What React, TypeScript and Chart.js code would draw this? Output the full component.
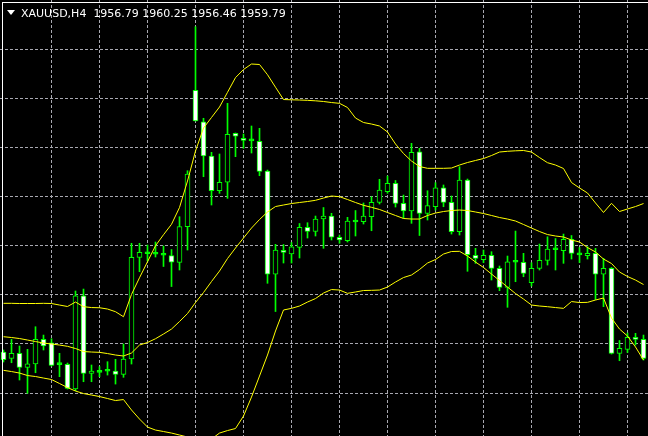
import React, { useEffect, useRef } from 'react';
import { Chart, registerables } from 'chart.js';

Chart.register(...registerables);

// ---- data (XAUUSD H4, 81 visible bars) ----
const opens = [
  1958.69, 1957.66, 1958.48, 1956.19, 1956.73, 1960.76, 1960.21, 1956.72, 1956.68, 1952.65,
  1967.88, 1955.21, 1955.46, 1955.55, 1955.59, 1955.05, 1957.55, 1974.15, 1974.81, 1974.65,
  1974.57, 1974.44, 1973.33, 1979.15, 2001.42, 1996.29, 1990.69, 1985.02, 1986.40, 1994.40,
  1993.58, 1993.16, 1993.09, 1988.24, 1971.42, 1975.26, 1974.72, 1975.78, 1979.05, 1978.36,
  1980.40, 1980.89, 1977.42, 1976.86, 1979.92, 1979.96, 1980.78, 1983.13, 1984.86, 1986.23,
  1982.97, 1981.71, 1991.39, 1981.33, 1982.41, 1985.51, 1983.13, 1978.33, 1986.77, 1974.48,
  1973.76, 1974.48, 1972.35, 1969.25, 1973.42, 1973.33, 1970.00, 1972.35, 1973.66, 1975.38,
  1975.23, 1977.09, 1974.62, 1974.41, 1974.80, 1971.38, 1972.35, 1958.48, 1959.13, 1961.09,
  1960.76,
];
const highs = [
  1959.02, 1960.76, 1959.67, 1959.13, 1962.82, 1961.46, 1960.86, 1958.48, 1956.89, 1968.65,
  1968.97, 1956.57, 1956.29, 1957.11, 1957.50, 1960.00, 1976.44, 1976.44, 1976.16, 1976.65,
  1976.00, 1975.42, 1980.78, 1988.29, 2011.80, 1996.85, 1991.29, 1991.02, 1999.29, 1994.45,
  1994.28, 1995.59, 1995.21, 1988.40, 1976.27, 1976.24, 1976.57, 1979.67, 1979.80, 1980.89,
  1982.28, 1981.33, 1977.79, 1980.68, 1981.79, 1983.02, 1984.05, 1986.89, 1987.42, 1986.69,
  1984.32, 1992.76, 1991.95, 1985.02, 1986.33, 1985.96, 1984.16, 1988.94, 1986.93, 1975.62,
  1975.34, 1975.07, 1972.73, 1974.36, 1978.44, 1974.80, 1973.27, 1976.32, 1977.51, 1977.22,
  1977.95, 1977.71, 1975.75, 1975.88, 1975.62, 1973.99, 1972.49, 1960.57, 1961.79, 1961.74,
  1961.46,
];
const lows = [
  1957.06, 1956.94, 1954.12, 1951.95, 1955.31, 1959.02, 1956.40, 1954.66, 1952.65, 1952.37,
  1953.84, 1953.84, 1954.66, 1954.93, 1953.46, 1954.56, 1956.73, 1971.80, 1973.55, 1974.20,
  1972.65, 1969.38, 1972.08, 1975.34, 1996.40, 1987.31, 1982.69, 1984.60, 1983.78, 1990.58,
  1991.95, 1991.18, 1987.47, 1969.91, 1965.30, 1973.22, 1973.22, 1974.04, 1977.30, 1977.63,
  1975.62, 1976.98, 1976.44, 1976.65, 1977.63, 1979.59, 1978.49, 1982.85, 1984.60, 1982.36,
  1980.52, 1979.70, 1977.71, 1980.24, 1981.87, 1982.41, 1977.95, 1977.79, 1971.87, 1973.17,
  1973.27, 1970.44, 1968.70, 1965.99, 1970.17, 1970.98, 1969.46, 1972.08, 1972.89, 1972.08,
  1973.17, 1973.87, 1973.30, 1973.87, 1967.26, 1966.09, 1958.36, 1957.27, 1958.61, 1959.83,
  1957.38,
];
const closes = [
  1957.46, 1958.48, 1956.19, 1956.78, 1960.76, 1959.67, 1956.52, 1956.64, 1952.76, 1967.88,
  1955.21, 1955.59, 1955.38, 1955.63, 1955.05, 1957.55, 1974.15, 1974.97, 1974.73, 1974.73,
  1974.49, 1973.35, 1979.15, 1987.75, 1996.40, 1990.69, 1985.02, 1986.40, 1994.23, 1993.91,
  1993.22, 1993.24, 1988.19, 1971.42, 1975.34, 1974.97, 1975.88, 1979.05, 1978.36, 1980.40,
  1980.89, 1977.42, 1976.98, 1980.08, 1980.00, 1980.89, 1983.13, 1985.14, 1986.23, 1982.97,
  1981.71, 1991.29, 1981.33, 1982.58, 1985.51, 1983.13, 1978.33, 1986.77, 1974.58, 1973.99,
  1974.48, 1972.35, 1969.25, 1973.43, 1973.34, 1971.54, 1972.35, 1973.66, 1975.51, 1975.46,
  1977.09, 1974.80, 1974.54, 1974.80, 1971.42, 1972.35, 1958.48, 1959.29, 1961.09, 1960.76,
  1957.66,
];
const upperBand = [
  1966.64, 1966.64, 1966.61, 1966.61, 1966.61, 1966.64, 1966.61, 1966.36, 1966.12, 1966.85,
  1966.09, 1965.95, 1965.92, 1965.71, 1965.27, 1964.45, 1968.09, 1970.82, 1973.43, 1976.04,
  1977.84, 1979.54, 1982.28, 1986.61, 1991.51, 1995.26, 1996.98, 1998.69, 2001.09, 2003.49,
  2004.81, 2005.71, 2005.63, 2003.96, 2001.92, 1999.91, 1999.87, 1999.83, 1999.78, 1999.70,
  1999.59, 1999.42, 1999.29, 1998.61, 1996.89, 1996.16, 1995.91, 1995.59, 1994.61, 1992.65,
  1991.10, 1989.87, 1988.98, 1988.68, 1988.68, 1988.68, 1988.73, 1989.22, 1989.63, 1989.96,
  1990.28, 1990.77, 1991.34, 1991.46, 1991.54, 1991.59, 1991.34, 1990.44, 1989.60, 1989.22,
  1988.65, 1986.36, 1985.47, 1984.65, 1983.02, 1981.47, 1982.97, 1981.63, 1982.04, 1982.44,
  1982.93,
];
const middleBand = [
  1961.19, 1961.06, 1960.89, 1960.65, 1960.40, 1960.16, 1960.00, 1959.83, 1959.62, 1959.26,
  1958.77, 1958.69, 1958.64, 1958.44, 1958.20, 1958.04, 1958.53, 1959.83, 1960.24, 1960.86,
  1961.63, 1962.44, 1963.67, 1964.97, 1966.77, 1968.40, 1970.20, 1971.91, 1973.95, 1975.67,
  1977.30, 1978.93, 1980.32, 1981.55, 1982.44, 1982.69, 1982.93, 1983.10, 1983.26, 1983.46,
  1983.83, 1984.16, 1984.05, 1983.59, 1983.10, 1982.64, 1982.31, 1981.96, 1981.47, 1980.98,
  1980.49, 1980.40, 1980.40, 1980.98, 1981.38, 1981.63, 1981.79, 1981.87, 1981.79, 1981.55,
  1981.30, 1980.98, 1980.65, 1980.40, 1980.08, 1979.51, 1978.93, 1978.36, 1977.87, 1977.63,
  1977.47, 1976.98, 1976.65, 1975.75, 1975.02, 1973.87, 1973.14, 1971.75, 1971.02, 1970.44,
  1969.71,
];
const lowerBand = [
  1955.70, 1955.50, 1955.26, 1954.85, 1954.69, 1954.44, 1954.20, 1953.55, 1952.89, 1952.32,
  1951.91, 1951.67, 1951.42, 1951.10, 1950.77, 1950.93, 1949.22, 1947.75, 1946.44, 1945.95,
  1945.71, 1945.46, 1945.14, 1944.81, 1944.48, 1944.32, 1944.48, 1945.46, 1945.87, 1946.20,
  1948.24, 1951.34, 1954.77, 1958.20, 1962.12, 1965.55, 1965.82, 1966.20, 1966.85, 1967.42,
  1968.32, 1968.89, 1968.81, 1968.27, 1968.49, 1968.73, 1968.76, 1968.81, 1969.30, 1970.12,
  1970.85, 1971.26, 1972.16, 1973.22, 1973.79, 1974.69, 1975.10, 1975.13, 1974.36, 1973.38,
  1972.49, 1971.42, 1970.36, 1969.30, 1968.24, 1967.34, 1966.36, 1966.20, 1966.09, 1965.95,
  1965.82, 1966.93, 1966.77, 1966.80, 1967.18, 1967.51, 1964.24, 1962.44, 1961.30, 1959.51,
  1957.38,
];
const gridPrices = [1952, 1960, 1968, 1976, 1984, 1992, 2000, 2008];
const gridBars = [6, 12, 18, 24, 30, 36, 42, 48, 54, 60, 66, 72, 78];
const headerText = 'XAUUSD,H4  1956.79 1960.25 1956.46 1959.79';

const PRICE_MIN = 1944.98;
const PRICE_MAX = 2016.16;
const BAR_MIN = -0.4375;
const BAR_MAX = 80.5625;

const GREEN = '#00ff00';
const YELLOW = '#ffff00';
const GRID = '#a8a8b0';

export default function App() {
  const canvasRef = useRef<HTMLCanvasElement | null>(null);

  useEffect(() => {
    const canvas = canvasRef.current;
    if (!canvas) return;
    const idx = opens.map((_, i) => i);
    const bodies = idx.map((i) => ({ x: i, y: [opens[i], closes[i]] }));
    const wicks = idx.map((i) => ({ x: i, y: [lows[i], highs[i]] }));
    const band = (arr: number[]) => arr.map((v, i) => ({ x: i, y: v }));
    const isDoji = (i: number) => Math.abs(opens[i] - closes[i]) < 0.2;

    const lineDs = (arr: number[]) => ({
      type: 'line' as const,
      data: band(arr),
      borderColor: YELLOW,
      borderWidth: 1,
      pointRadius: 0,
      tension: 0,
      fill: false,
      order: 0,
    });

    const gridCfg = {
      color: GRID,
      lineWidth: 1,
      drawTicks: false,
      offset: false,
    };

    const chart = new Chart(canvas, {
      type: 'bar',
      data: {
        datasets: [
          lineDs(upperBand),
          lineDs(middleBand),
          lineDs(lowerBand),
          {
            type: 'bar',
            data: bodies as any,
            backgroundColor: (c: any) => {
              const i = c.dataIndex;
              if (i === undefined) return '#000000';
              if (isDoji(i)) return GREEN;
              return closes[i] < opens[i] ? '#ffffff' : '#000000';
            },
            borderColor: GREEN,
            borderWidth: 1,
            borderSkipped: false,
            barThickness: 5,
            minBarLength: 2,
            grouped: false,
            order: 1,
          } as any,
          {
            type: 'bar',
            data: wicks as any,
            backgroundColor: GREEN,
            borderWidth: 0,
            barThickness: 1,
            grouped: false,
            order: 2,
          } as any,
        ],
      },
      options: {
        animation: false,
        responsive: false,
        devicePixelRatio: 1,
        events: [],
        layout: { padding: 0 },
        plugins: {
          legend: { display: false },
          tooltip: { enabled: false },
          title: { display: false },
        },
        scales: {
          x: {
            type: 'linear',
            min: BAR_MIN,
            max: BAR_MAX,
            offset: false,
            grid: gridCfg,
            border: { display: false, dash: [3, 2] },
            ticks: { display: false },
            afterBuildTicks: (s: any) => {
              s.ticks = gridBars.map((v) => ({ value: v }));
            },
            afterFit: (s: any) => {
              s.height = 0;
            },
          },
          y: {
            type: 'linear',
            min: PRICE_MIN,
            max: PRICE_MAX,
            grid: gridCfg,
            border: { display: false, dash: [3, 2] },
            ticks: { display: false },
            afterBuildTicks: (s: any) => {
              s.ticks = gridPrices.map((v) => ({ value: v }));
            },
            afterFit: (s: any) => {
              s.width = 0;
            },
          },
        },
      } as any,
    });
    return () => chart.destroy();
  }, []);

  return (
    <div
      style={{
        position: 'fixed',
        left: 0,
        top: 0,
        width: 648,
        height: 436,
        background: '#000',
        overflow: 'hidden',
      }}
    >
      <canvas
        ref={canvasRef}
        width={648}
        height={436}
        style={{ position: 'absolute', left: 0, top: 0, width: 648, height: 436 }}
      />
      <div
        style={{
          position: 'absolute',
          left: 2,
          top: 2,
          right: 0,
          bottom: 0,
          borderLeft: '1px solid #ffffff',
          borderTop: '1px solid #ffffff',
          pointerEvents: 'none',
        }}
      />
      <div
        style={{
          position: 'absolute',
          left: 7,
          top: 10,
          width: 0,
          height: 0,
          borderLeft: '4px solid transparent',
          borderRight: '4px solid transparent',
          borderTop: '5px solid #ffffff',
        }}
      />
      <div
        style={{
          position: 'absolute',
          left: 21,
          top: 8,
          fontFamily: '"DejaVu Sans", sans-serif',
          fontSize: 11,
          lineHeight: '11px',
          color: '#ffffff',
          whiteSpace: 'pre',
        }}
      >
        {headerText}
      </div>
    </div>
  );
}
